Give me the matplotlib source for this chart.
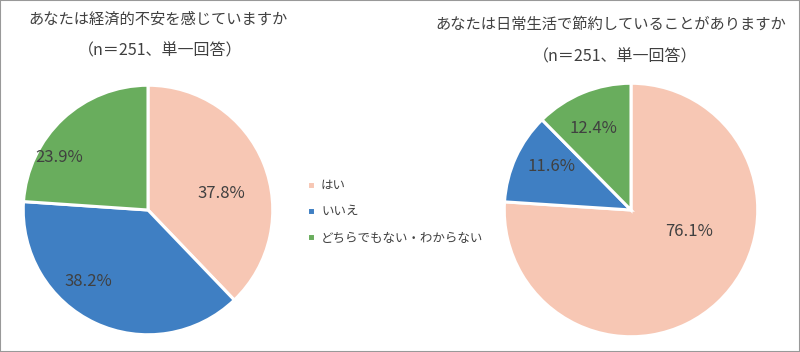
import matplotlib
matplotlib.use('Agg')
import matplotlib.pyplot as plt
from matplotlib.patches import Rectangle

plt.rcParams['font.family'] = ['Noto Sans CJK JP', 'DejaVu Sans']

# データ
categories = ['はい', 'いいえ', 'どちらでもない・わからない']
anxiety = [37.8, 38.2, 23.9]
saving = [76.1, 11.6, 12.4]
title_left = 'あなたは経済的不安を感じていますか'
title_right = 'あなたは日常生活で節約していることがありますか'
subtitle = '（n＝251、単一回答）'

colors = ['#F7C7B4', '#3F7FC3', '#69AD5D']
text_color = '#404040'

# ラベル位置（半径=1の座標）
left_label_xy = [(0.59, 0.13), (-0.48, -0.57), (-0.71, 0.42)]
right_label_xy = [(0.46, -0.17), (-0.63, 0.34), (-0.30, 0.64)]

W, H = 800, 352
fig = plt.figure(figsize=(8, 3.52), dpi=100)


def draw_pie(cx, cy, r, values, label_xy):
    ax = fig.add_axes([(cx - r) / W, (H - cy - r) / H, 2 * r / W, 2 * r / H])
    wedges, _ = ax.pie(values, colors=colors, startangle=90, counterclock=False,
                       radius=1, wedgeprops=dict(edgecolor='white', linewidth=2.2))
    for v, (x, y) in zip(values, label_xy):
        ax.text(x, y, f'{v:.1f}%', ha='center', va='center', fontsize=12,
                color=text_color)
    ax.set_xlim(-1.01, 1.01)
    ax.set_ylim(-1.01, 1.01)
    ax.set_aspect('equal')
    ax.axis('off')
    return wedges


wedges = draw_pie(148, 210, 126, anxiety, left_label_xy)
draw_pie(631, 210, 128, saving, right_label_xy)

# タイトル
fig.text(158 / W, 1 - 19 / H, title_left, ha='center', va='center',
         fontsize=11, color=text_color)
fig.text(160 / W, 1 - 51 / H, subtitle, ha='center', va='center',
         fontsize=11.5, color=text_color)
fig.text(611 / W, 1 - 24 / H, title_right, ha='center', va='center',
         fontsize=11, color=text_color)
fig.text(615 / W, 1 - 57 / H, subtitle, ha='center', va='center',
         fontsize=11.5, color=text_color)

# 凡例
fig.legend(wedges, categories, loc='upper left',
           bbox_to_anchor=(296 / W, 1 - 168 / H), frameon=False,
           fontsize=9, handlelength=0.6, handleheight=0.6, handletextpad=0.5,
           labelspacing=1.05, labelcolor=text_color)

# 枠線
fig.patches.append(Rectangle((0, 0), 1, 1, transform=fig.transFigure,
                             fill=False, edgecolor='#999999', linewidth=1.5))

fig.savefig('out.png', dpi=100)
